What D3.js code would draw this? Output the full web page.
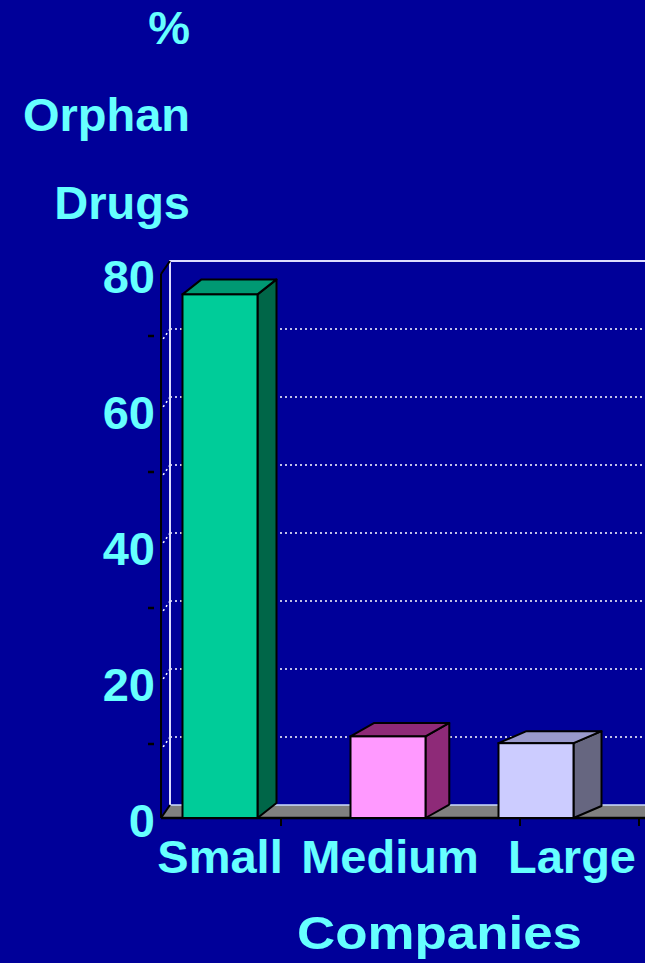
<!DOCTYPE html>
<html>
<head>
<meta charset="utf-8">
<script src="https://cdn.jsdelivr.net/npm/d3@7/dist/d3.min.js"></script>
<style>
  html, body { margin: 0; padding: 0; background: #000099; }
  svg { display: block; }
</style>
</head>
<body>
<div id="chart"></div>
<script>
// chart data
const categories = ["Small", "Medium", "Large"];
const values = [77, 12, 11];
const yTicks = [0, 20, 40, 60, 80];
const gridValues = [10, 20, 30, 40, 50, 60, 70];
const minorTicks = [10, 30, 50, 70];
const titleLines = ["%", "Orphan", "Drugs"];
const xTitle = "Companies";

const barColors = [
  { front: "#00cc99", side: "#006648", top: "#009973" },
  { front: "#ff99ff", side: "#8e2a78", top: "#8e2a78" },
  { front: "#ccccff", side: "#666680", top: "#9999cc" }
];

const W = 645, H = 963;
const textColor = "#66ffff";
const font = "'Liberation Sans', Arial, sans-serif";

const svg = d3.select("#chart").append("svg")
  .attr("width", W).attr("height", H);

svg.append("rect").attr("width", W).attr("height", H).attr("fill", "#000099");

// front plane and back wall scales
const yFront = d3.scaleLinear().domain([0, 80]).range([818, 274]);
const yBack = d3.scaleLinear().domain([0, 80]).range([805, 261]);
const wallLeft = 170, wallRight = 660, frontLeft = 161, frontRight = 640;

// bar centres and label centres (the original chart is not evenly spaced)
const xBar = d3.scaleOrdinal().domain(categories).range([220, 388, 536]);
const xLab = d3.scaleOrdinal().domain(categories).range([220, 390, 572]);
const barW = 75;

// perspective depth grows to the right
const depth = cx => ({
  dx: 19 + (cx - 220) * 9 / 316,
  dy: -15 + (cx - 220) * 3 / 316
});

// back wall gridlines
svg.append("g").selectAll("line").data(gridValues).enter().append("line")
  .attr("x1", wallLeft).attr("x2", wallRight)
  .attr("y1", d => yBack(d)).attr("y2", d => yBack(d))
  .attr("stroke", "#ffffff").attr("stroke-width", 1.5)
  .attr("stroke-dasharray", "2,3");

// diagonal dotted connectors on the side wall
svg.append("g").selectAll("line").data(gridValues).enter().append("line")
  .attr("x1", wallLeft).attr("x2", frontLeft)
  .attr("y1", d => yBack(d)).attr("y2", d => yFront(d))
  .attr("stroke", "#ffffff").attr("stroke-width", 1.5)
  .attr("stroke-dasharray", "2,3");

// back wall outline
svg.append("path")
  .attr("d", `M${wallLeft},${yBack(0)}V${yBack(80)}H${wallRight}`)
  .attr("fill", "none").attr("stroke", "#ddddff").attr("stroke-width", 2);

// floor
svg.append("path")
  .attr("d", `M${frontLeft},${yFront(0)}L${wallLeft},${yBack(0)}L${wallRight},${yBack(0)}L${frontRight + 20},${yFront(0)}Z`)
  .attr("fill", "#808080");
svg.append("line")
  .attr("x1", wallLeft).attr("x2", wallRight)
  .attr("y1", yBack(0)).attr("y2", yBack(0))
  .attr("stroke", "#ccddff").attr("stroke-width", 1.5);
svg.append("line")
  .attr("x1", frontLeft).attr("x2", W)
  .attr("y1", yFront(0)).attr("y2", yFront(0))
  .attr("stroke", "#000").attr("stroke-width", 2.5);
svg.append("line")
  .attr("x1", frontLeft).attr("x2", wallLeft)
  .attr("y1", yFront(0)).attr("y2", yBack(0))
  .attr("stroke", "#000").attr("stroke-width", 2);

// left wall front edge
svg.append("line")
  .attr("x1", frontLeft).attr("x2", frontLeft)
  .attr("y1", yFront(0)).attr("y2", yFront(80))
  .attr("stroke", "#000").attr("stroke-width", 2);
svg.append("line")
  .attr("x1", frontLeft).attr("x2", wallLeft)
  .attr("y1", yFront(80)).attr("y2", yBack(80))
  .attr("stroke", "#000").attr("stroke-width", 2);

// y minor ticks
svg.append("g").selectAll("line").data(minorTicks).enter().append("line")
  .attr("x1", 148).attr("x2", 154)
  .attr("y1", d => yFront(d) - 6).attr("y2", d => yFront(d) - 6)
  .attr("stroke", "#000").attr("stroke-width", 2.5);

// category ticks
const catTicks = [281, 520, 639];
svg.append("g").selectAll("line").data(catTicks).enter().append("line")
  .attr("x1", d => d).attr("x2", d => d)
  .attr("y1", yFront(0)).attr("y2", yFront(0) + 8)
  .attr("stroke", "#000").attr("stroke-width", 2);

// bars
const bars = svg.append("g").selectAll("g").data(values).enter().append("g");
bars.each(function (v, i) {
  const g = d3.select(this);
  const cx = xBar(categories[i]);
  const { dx, dy } = depth(cx);
  const x0 = cx - barW / 2, x1 = cx + barW / 2;
  const yb = yFront(0), yt = yFront(v);
  const c = barColors[i];
  g.append("path")
    .attr("d", `M${x1},${yb}L${x1 + dx},${yb + dy}L${x1 + dx},${yt + dy}L${x1},${yt}Z`)
    .attr("fill", c.side).attr("stroke", "#000").attr("stroke-width", 2)
    .attr("stroke-linejoin", "round");
  g.append("path")
    .attr("d", `M${x0},${yt}L${x0 + dx},${yt + dy}L${x1 + dx},${yt + dy}L${x1},${yt}Z`)
    .attr("fill", c.top).attr("stroke", "#000").attr("stroke-width", 2)
    .attr("stroke-linejoin", "round");
  g.append("rect")
    .attr("x", x0).attr("y", yt).attr("width", barW).attr("height", yb - yt)
    .attr("fill", c.front).attr("stroke", "#000").attr("stroke-width", 2);
});

// y tick labels
svg.append("g").selectAll("text").data(yTicks).enter().append("text")
  .attr("x", 155).attr("y", d => yFront(d) + 19)
  .attr("text-anchor", "end")
  .attr("font-family", font).attr("font-weight", "bold").attr("font-size", 47)
  .attr("fill", textColor)
  .text(d => d);

// category labels
svg.append("g").selectAll("text").data(categories).enter().append("text")
  .attr("x", d => xLab(d)).attr("y", 873)
  .attr("text-anchor", "middle")
  .attr("font-family", font).attr("font-weight", "bold").attr("font-size", 47)
  .attr("fill", textColor)
  .text(d => d);

// y title
svg.append("g").selectAll("text").data(titleLines).enter().append("text")
  .attr("x", 190).attr("y", (d, i) => 43.5 + i * 87.5)
  .attr("text-anchor", "end")
  .attr("font-family", font).attr("font-weight", "bold").attr("font-size", 47)
  .attr("fill", textColor)
  .text(d => d);

// x title
svg.append("text")
  .attr("x", 297).attr("y", 949)
  .attr("textLength", 285).attr("lengthAdjust", "spacingAndGlyphs")
  .attr("font-family", font).attr("font-weight", "bold").attr("font-size", 47)
  .attr("fill", textColor)
  .text(xTitle);
</script>
</body>
</html>
